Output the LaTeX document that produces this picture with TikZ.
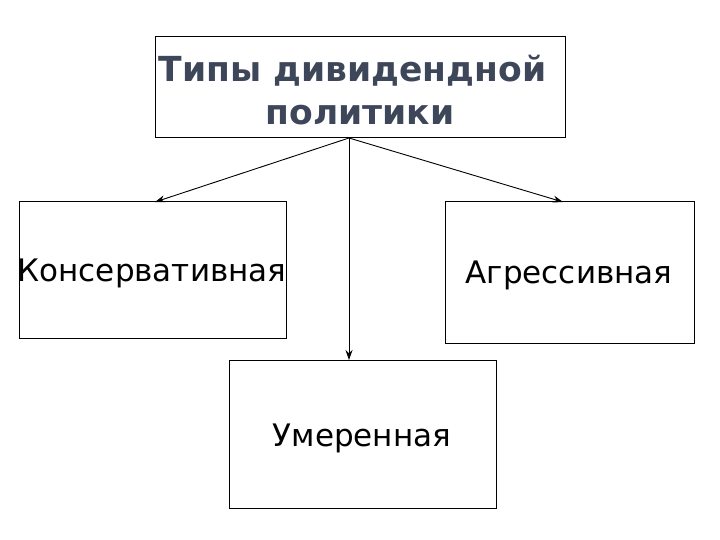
\documentclass[tikz,border=0pt]{standalone}
\usepackage{fontspec}
\setmainfont{DejaVu Sans}
\usetikzlibrary{arrows.meta}
\definecolor{titlecol}{HTML}{3D4759}
\tikzset{
  conn/.style={line width=0.9pt, -{Stealth[length=10pt,width=7pt]}},
  lbl/.style={font=\fontsize{31}{34}\selectfont, text=black, inner sep=0pt, anchor=base},
  ttl/.style={font=\bfseries\fontsize{34.5}{38}\selectfont, text=titlecol, inner sep=0pt, anchor=base},
  box/.style={draw, line width=1pt, inner sep=0pt}
}
\begin{document}
\begin{tikzpicture}[x=1pt,y=-1pt]
\useasboundingbox (0,0) rectangle (720,540);
% boxes
\node[box, minimum width=410pt, minimum height=101pt] (top) at (360,87.5) {};
\node[box, minimum width=267pt, minimum height=136pt] (left) at (152.5,270) {};
\node[box, minimum width=249pt, minimum height=141pt] (right) at (569.5,272.5) {};
\node[box, minimum width=267pt, minimum height=148pt] (mid) at (362.5,434) {};
% texts
\node[ttl] (t1) at (352.5,82) {Типы дивидендной};
\node[ttl] (t2) at (360,125) {политики};
\node[lbl] (tl) at (152,281) {Консервативная};
\node[lbl] (tr) at (569,283) {Агрессивная};
\node[lbl] (tm) at (362,446) {Умеренная};
% connectors
\coordinate (o) at (349,138);
\draw[conn] (o) -- (155,202);
\draw[conn] (o) -- (563,202);
\draw[conn] (o) -- (349,360);
\end{tikzpicture}
\end{document}
